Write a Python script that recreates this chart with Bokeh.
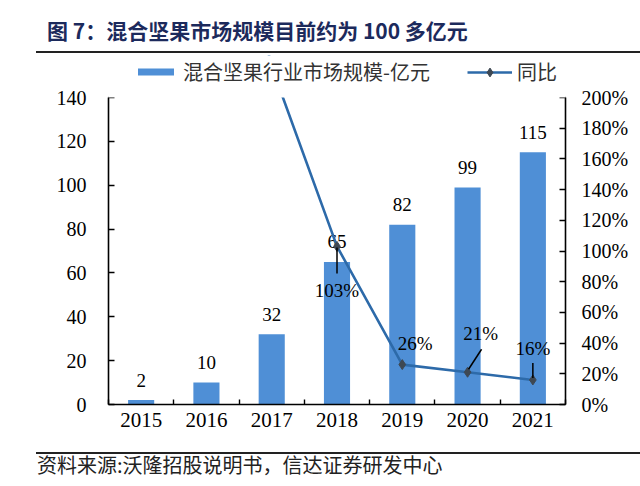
import numpy as np
from bokeh.plotting import figure
from bokeh.layouts import column
from bokeh.models import (Range1d, LinearAxis, FixedTicker, PrintfTickFormatter, Div,
                          Legend, LegendItem, ColumnDataSource, BoxAnnotation)
from bokeh.embed import file_html
from bokeh.resources import INLINE
from bokeh.core.properties import value

# ---------------- data ----------------
years = [2015, 2016, 2017, 2018, 2019, 2020, 2021]
market_size = [2, 10, 32, 65, 82, 99, 115]          # 亿元
yoy_pct = [np.nan, 400, 220, 103, 26, 21, 16]       # %
yoy_label_years = [2018, 2019, 2020, 2021]
yoy_label_vals = [103, 26, 21, 16]
left_ticks = [0, 20, 40, 60, 80, 100, 120, 140]
right_ticks = [0, 20, 40, 60, 80, 100, 120, 140, 160, 180, 200]
LEFT_MAX, RIGHT_MAX = 140, 200

TITLE = "图 7：混合坚果市场规模目前约为 100 多亿元"
SOURCE = "资料来源:沃隆招股说明书，信达证券研发中心"
BAR_NAME = "混合坚果行业市场规模-亿元"
LINE_NAME = "同比"

# ---------------- styles ----------------
BAR_COLOR = "#4f8fd6"
LINE_COLOR = "#2d6aa9"
MARK_COLOR = "#3e4853"
TITLE_COLOR = "#1c2a5c"
SERIF = "Liberation Serif"
CJK = "Noto Sans CJK SC"

PAGE_W = 640
TOP_H, BOT_H = 55, 40
FIG_H = 486 - TOP_H - BOT_H
FL, FR, FT, FB = 108, 75, 0, 42
FW = PAGE_W - FL - FR
FH = FIG_H - FT - FB
AXIS_TOP_PX = 42            # distance from frame top to the 140 / 200% level
AXIS_H = FH - AXIS_TOP_PX

p = figure(width=PAGE_W, height=FIG_H, title=None,
           x_range=Range1d(2014.5, 2021.5),
           y_range=Range1d(0, LEFT_MAX * FH / AXIS_H),
           output_backend="svg", toolbar_location=None,
           min_border_left=FL, min_border_right=FR, min_border_top=FT, min_border_bottom=FB)
p.outline_line_color = None
p.xgrid.visible = False
p.ygrid.visible = False
p.background_fill_color = "white"
p.border_fill_color = "white"
p.extra_y_ranges = {"yoy": Range1d(0, RIGHT_MAX * FH / AXIS_H)}


def style_axis(ax):
    ax.axis_line_color = "black"
    ax.axis_line_width = 1.6
    ax.major_tick_line_color = "black"
    ax.major_tick_line_width = 1.4
    ax.major_tick_in = 6
    ax.major_tick_out = 0
    ax.minor_tick_line_color = None
    ax.major_label_text_font = SERIF
    ax.major_label_text_font_size = "20px"
    ax.major_label_text_color = "black"


xa = p.xaxis[0]
style_axis(xa)
xa.ticker = FixedTicker(ticks=years, minor_ticks=[y - 0.5 for y in years] + [years[-1] + 0.5])
xa.formatter = PrintfTickFormatter(format="%d")
xa.major_tick_in = 0
xa.minor_tick_line_color = "black"
xa.minor_tick_line_width = 1.4
xa.minor_tick_in = 5
xa.minor_tick_out = 0
xa.major_label_standoff = 8
xa.major_label_text_font_size = "21px"

ya = p.yaxis[0]
style_axis(ya)
ya.ticker = FixedTicker(ticks=left_ticks)
ya.bounds = (0, LEFT_MAX)
ya.major_label_standoff = 22

ra = LinearAxis(y_range_name="yoy", ticker=FixedTicker(ticks=right_ticks),
                formatter=PrintfTickFormatter(format="%d%%"), bounds=(0, RIGHT_MAX))
style_axis(ra)
ra.major_label_standoff = 16
p.add_layout(ra, "right")

# bars
bars = p.vbar(x=years, top=market_size, width=0.4, fill_color=BAR_COLOR, line_color=None)
p.text(x=years, y=market_size, text=[str(v) for v in market_size], text_align="center",
       text_baseline="middle", y_offset=-20, text_font=value(SERIF), text_font_size="19px",
       text_color="black")

# line
ln = p.line(x=years, y=yoy_pct, y_range_name="yoy", line_color=LINE_COLOR, line_width=2.6)
mk = p.scatter(x=years, y=yoy_pct, y_range_name="yoy", marker="diamond", size=10,
               fill_color=MARK_COLOR, line_color=MARK_COLOR)

# mask everything above the 200% level (the chart area ends there)
p.add_layout(BoxAnnotation(bottom=RIGHT_MAX, y_range_name="yoy", fill_color="white",
                           fill_alpha=1, line_color=None))

# line labels (pixel offsets from points)
lab_dx = [0, 13, 13, 0]
lab_dy = [44, -21, -39, -31]
lsrc = ColumnDataSource(dict(x=yoy_label_years, y=yoy_label_vals,
                             t=[f"{v}%" for v in yoy_label_vals], dx=lab_dx, dy=lab_dy))
p.text(x="x", y="y", text="t", x_offset="dx", y_offset="dy", source=lsrc, y_range_name="yoy",
       text_align="center", text_baseline="middle", text_font=value(SERIF),
       text_font_size="19px", text_color="black")

# leader lines (pixel offsets converted to data units)
pxx = FW / 7.0
pxy = AXIS_H / RIGHT_MAX
lead_years = [2018, 2020, 2021]
lead_vals = [103, 21, 16]
lead_px = [(0, 1, 0, 27), (1, -3, 14, -23), (0, -2, 0, -17)]  # (dx0, dy0, dx1, dy1) px, +dy down
x0 = [y + a / pxx for y, (a, b, c, d) in zip(lead_years, lead_px)]
y0 = [v - b / pxy for v, (a, b, c, d) in zip(lead_vals, lead_px)]
x1 = [y + c / pxx for y, (a, b, c, d) in zip(lead_years, lead_px)]
y1 = [v - d / pxy for v, (a, b, c, d) in zip(lead_vals, lead_px)]
p.segment(x0=x0, y0=y0, x1=x1, y1=y1, y_range_name="yoy", line_color="black", line_width=1.5)

# legends (two, so the bar swatch stays thin while the diamond keeps its size)
LEG_Y = FH - 5 - 26
common = dict(orientation="horizontal", border_line_color=None, background_fill_alpha=0,
              label_text_font=CJK, label_text_font_size="20px", label_text_color="#333333",
              glyph_width=45, padding=0, margin=0, label_standoff=5)
p.add_layout(Legend(items=[LegendItem(label=BAR_NAME, renderers=[bars])],
                    location=(25, LEG_Y), glyph_height=9, **common))
p.add_layout(Legend(items=[LegendItem(label=LINE_NAME, renderers=[ln, mk])],
                    location=(359, LEG_Y), glyph_height=22, **common))

top_div = Div(width=PAGE_W, height=TOP_H, margin=0, text=(
    f'<div style="position:relative;width:{PAGE_W}px;height:{TOP_H}px;">'
    f'<div style="position:absolute;left:47px;top:18px;font-family:\'{CJK}\';font-size:21px;'
    f'line-height:25px;font-weight:bold;color:{TITLE_COLOR};white-space:nowrap;">{TITLE}</div>'
    f'<div style="position:absolute;left:36px;top:51px;width:604px;height:2px;background:#222;"></div>'
    f'</div>'))
bot_div = Div(width=PAGE_W, height=BOT_H, margin=0, text=(
    f'<div style="position:relative;width:{PAGE_W}px;height:{BOT_H}px;">'
    f'<div style="position:absolute;left:36px;top:6px;width:604px;height:2px;background:#222;"></div>'
    f'<div style="position:absolute;left:37px;top:7px;font-family:\'{CJK}\';font-size:20px;'
    f'line-height:24px;color:#222;white-space:nowrap;">{SOURCE}</div>'
    f'</div>'))

layout = column(top_div, p, bot_div, spacing=0)
open("out.html", "w").write(file_html(layout, INLINE))
